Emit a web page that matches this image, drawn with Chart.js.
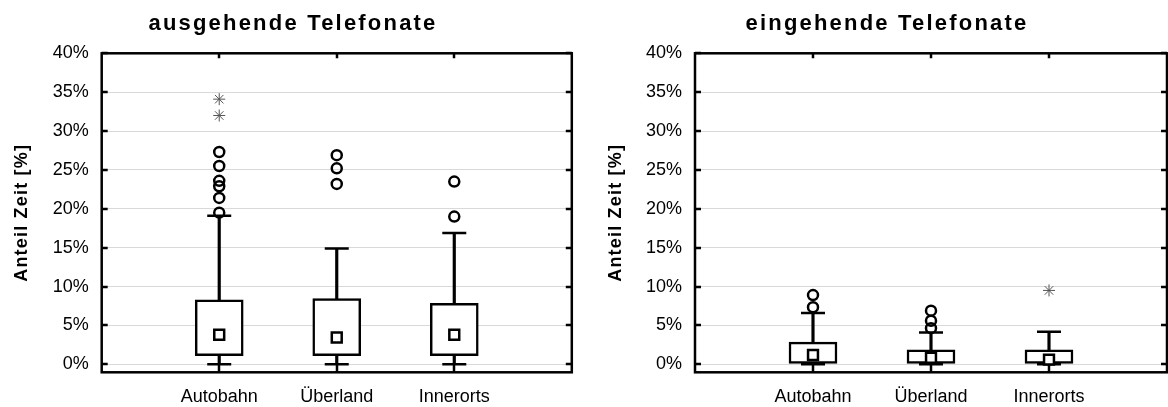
<!DOCTYPE html>
<html>
<head>
<meta charset="utf-8">
<script src="https://cdn.jsdelivr.net/npm/chart.js@4.4.1/dist/chart.umd.min.js"></script>
<style>
  html, body { margin: 0; padding: 0; background: #ffffff; }
  body { width: 1168px; height: 407px; position: relative; overflow: hidden; }
  canvas { position: absolute; top: 0; }
  #outgoing { left: 0; }
  #incoming { left: 584px; }
</style>
</head>
<body>
<canvas id="outgoing" width="584" height="407"></canvas>
<canvas id="incoming" width="584" height="407"></canvas>
<script>
// Road types on the x axis
const categories = ['Autobahn', 'Überland', 'Innerorts'];
// Share of driving time, percent
const yTicks = [0, 5, 10, 15, 20, 25, 30, 35, 40];
const yAxisTitle = 'Anteil Zeit [%]';

// Outgoing calls
const outQ1 = [1.1, 1.1, 1.1];
const outQ3 = [8.3, 8.45, 7.85];
const outMedian = [3.8, 3.45, 3.8];
const outWhiskerLow = [0, 0, 0];
const outWhiskerHigh = [19.1, 14.9, 16.9];
const outOutliers = [[27.3, 25.5, 23.6, 22.9, 21.4, 19.5], [26.9, 25.2, 23.2], [23.5, 19.0]];
const outExtremes = [[34.1, 32.0], [], []];

// Incoming calls
const inQ1 = [0.1, 0.1, 0.1];
const inQ3 = [2.85, 1.85, 1.85];
const inMedian = [1.2, 0.85, 0.6];
const inWhiskerLow = [0, 0, 0];
const inWhiskerHigh = [6.6, 4.1, 4.2];
const inOutliers = [[8.9, 7.35], [6.9, 5.6, 4.65], []];
const inExtremes = [[], [], [9.5]];

const FONT = "'Liberation Sans', Arial, sans-serif";
const LINE = 2.5;

// Frame around the plot area with short inward ticks on all four sides
const framePlugin = {
  id: 'frame',
  afterDatasetsDraw(chart) {
    const { ctx, chartArea: a, scales } = chart;
    ctx.save();
    ctx.strokeStyle = '#000';
    ctx.lineWidth = LINE;
    ctx.beginPath();
    scales.y.ticks.forEach(t => {
      const py = Math.round(scales.y.getPixelForValue(t.value));
      ctx.moveTo(a.left, py); ctx.lineTo(a.left + 6, py);
      ctx.moveTo(a.right, py); ctx.lineTo(a.right - 6, py);
    });
    scales.x.ticks.forEach(t => {
      const px = Math.round(scales.x.getPixelForValue(t.value));
      ctx.moveTo(px, a.top); ctx.lineTo(px, a.top + 5);
      ctx.moveTo(px, a.bottom); ctx.lineTo(px, a.bottom - 8);
    });
    ctx.stroke();
    ctx.strokeRect(a.left, a.top, a.right - a.left, a.bottom - a.top);
    ctx.restore();
  }
};

// Chart heading and rotated y-axis title, drawn with letter spacing
const headingPlugin = {
  id: 'heading',
  afterDraw(chart, args, opts) {
    const { ctx, chartArea: a } = chart;
    ctx.save();
    ctx.fillStyle = '#000';
    ctx.textAlign = 'center';
    ctx.textBaseline = 'alphabetic';
    ctx.font = "bold 22px " + FONT;
    ctx.letterSpacing = '2.2px';
    ctx.fillText(opts.text, opts.titleX, 30);
    ctx.font = "bold 18px " + FONT;
    ctx.letterSpacing = '1.2px';
    ctx.translate(opts.axisX, (a.top + a.bottom) / 2);
    ctx.rotate(-Math.PI / 2);
    ctx.textBaseline = 'middle';
    ctx.fillText(yAxisTitle, 0, 0);
    ctx.restore();
  }
};

function pointsFrom(lists) {
  const pts = [];
  lists.forEach((vals, i) => vals.forEach(v => pts.push({ x: i + 1, y: v })));
  return pts;
}

function makeChart(id, title, q1, q3, med, wLow, wHigh, outliers, extremes, layout) {
  const idx = categories.map((c, i) => i + 1);
  return new Chart(document.getElementById(id), {
    type: 'bar',
    data: {
      datasets: [
        {
          // whisker stem from lower to upper fence
          type: 'bar', order: 4, grouped: false, barThickness: LINE,
          data: idx.map((x, i) => ({ x, y: [wLow[i], wHigh[i]] })),
          backgroundColor: '#000', borderWidth: 0
        },
        {
          // interquartile box
          type: 'bar', order: 3, grouped: false, barThickness: 48,
          data: idx.map((x, i) => ({ x, y: [q1[i], q3[i]] })),
          backgroundColor: '#fff', borderColor: '#000', borderWidth: LINE, borderSkipped: false
        },
        {
          // whisker caps
          type: 'line', order: 2, showLine: false,
          data: idx.map((x, i) => ({ x, y: wHigh[i] })).concat(idx.map((x, i) => ({ x, y: wLow[i] }))),
          pointStyle: 'line', pointRadius: 12, borderColor: '#000', pointBorderWidth: LINE
        },
        {
          // median marker
          type: 'line', order: 1, showLine: false,
          data: idx.map((x, i) => ({ x, y: med[i] })),
          pointStyle: 'rect', pointRadius: 7, pointBackgroundColor: '#fff',
          pointBorderColor: '#000', pointBorderWidth: LINE
        },
        {
          // outliers
          type: 'line', order: 0, showLine: false,
          data: pointsFrom(outliers),
          pointStyle: 'circle', pointRadius: 5, pointBackgroundColor: 'rgba(0,0,0,0)',
          pointBorderColor: '#000', pointBorderWidth: LINE
        },
        {
          // extreme values
          type: 'line', order: 0, showLine: false,
          data: pointsFrom(extremes),
          pointStyle: 'star', pointRadius: 6, pointBackgroundColor: 'rgba(0,0,0,0)',
          pointBorderColor: '#555', pointBorderWidth: 1
        }
      ]
    },
    options: {
      responsive: false,
      animation: false,
      events: [],
      layout: { autoPadding: false, padding: { left: 0, right: layout.right, top: 53.3, bottom: 0 } },
      plugins: {
        legend: { display: false },
        tooltip: { enabled: false },
        title: { display: false },
        heading: { text: title, titleX: layout.titleX, axisX: layout.axisX }
      },
      scales: {
        x: {
          type: 'linear', min: 0, max: 4, offset: false,
          afterBuildTicks: s => { s.ticks = idx.map(v => ({ value: v })); },
          afterFit: s => { s.height = 407 - 372.3; s.paddingLeft = 0; s.paddingRight = 0; },
          grid: { display: false, drawTicks: false, offset: false },
          border: { display: false },
          ticks: {
            color: '#000', padding: 14, autoSkip: false, maxRotation: 0,
            font: { family: FONT, size: 18 },
            callback: v => categories[v - 1] || ''
          }
        },
        y: {
          type: 'linear', min: -1.03, max: 40,
          afterBuildTicks: s => { s.ticks = yTicks.map(v => ({ value: v })); },
          afterFit: s => { s.width = layout.left; s.paddingTop = 0; s.paddingBottom = 0; },
          grid: { color: '#d9d9d9', lineWidth: 1, drawTicks: false },
          border: { display: false },
          ticks: {
            color: '#000', padding: 13,
            font: { family: FONT, size: 18 },
            callback: v => v + '%'
          }
        }
      }
    },
    plugins: [framePlugin, headingPlugin]
  });
}

makeChart('outgoing', 'ausgehende Telefonate', outQ1, outQ3, outMedian, outWhiskerLow, outWhiskerHigh,
  outOutliers, outExtremes, { left: 101.7, right: 12.2, titleX: 293, axisX: 22 });
makeChart('incoming', 'eingehende Telefonate', inQ1, inQ3, inMedian, inWhiskerLow, inWhiskerHigh,
  inOutliers, inExtremes, { left: 111, right: 1, titleX: 303, axisX: 32 });
</script>
</body>
</html>
